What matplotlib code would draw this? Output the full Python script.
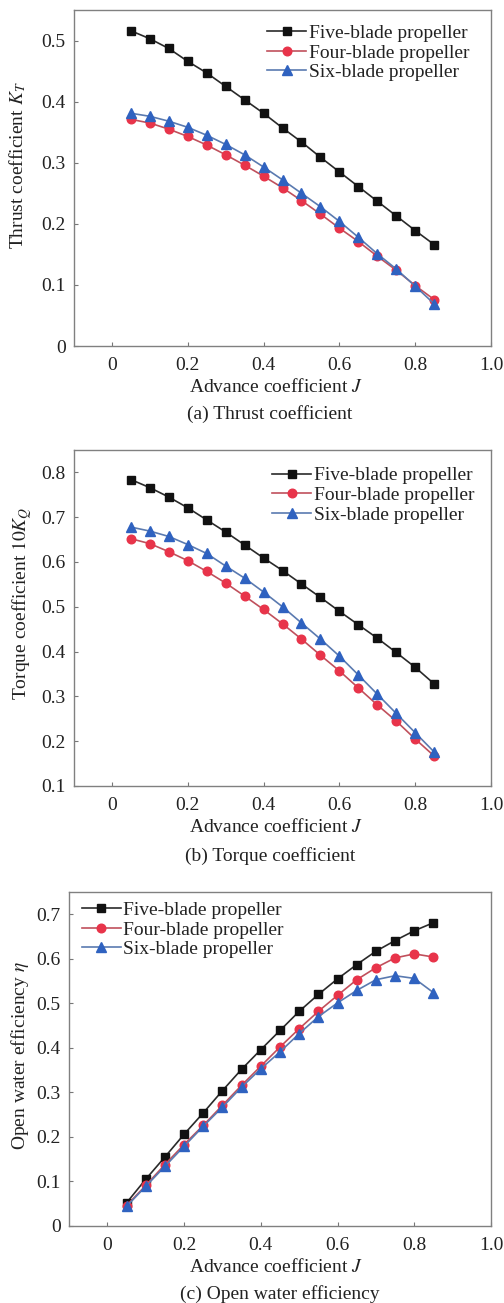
import matplotlib
matplotlib.use("Agg")
import matplotlib.pyplot as plt
from matplotlib.ticker import FuncFormatter

plt.rcParams["font.family"] = ["Liberation Serif", "DejaVu Serif"]
plt.rcParams["mathtext.fontset"] = "stix"

# Advance coefficient J
J = [0.05, 0.10, 0.15, 0.20, 0.25, 0.30, 0.35, 0.40, 0.45,
     0.50, 0.55, 0.60, 0.65, 0.70, 0.75, 0.80, 0.85]

series_labels = ["Five-blade propeller", "Four-blade propeller", "Six-blade propeller"]

# Thrust coefficient K_T
kt_five = [0.516, 0.503, 0.487, 0.466, 0.447, 0.425, 0.403, 0.381, 0.357,
           0.334, 0.309, 0.285, 0.261, 0.237, 0.213, 0.189, 0.166]
kt_four = [0.371, 0.365, 0.355, 0.343, 0.329, 0.313, 0.296, 0.278, 0.259,
           0.238, 0.216, 0.193, 0.171, 0.147, 0.124, 0.099, 0.076]
kt_six = [0.381, 0.376, 0.368, 0.358, 0.345, 0.330, 0.313, 0.293, 0.272,
          0.250, 0.228, 0.204, 0.178, 0.151, 0.126, 0.098, 0.069]

# Torque coefficient 10K_Q
kq_five = [0.784, 0.766, 0.745, 0.721, 0.694, 0.667, 0.638, 0.609, 0.581,
           0.551, 0.521, 0.490, 0.460, 0.430, 0.398, 0.365, 0.328]
kq_four = [0.652, 0.641, 0.623, 0.603, 0.579, 0.553, 0.524, 0.494, 0.462,
           0.428, 0.392, 0.357, 0.319, 0.281, 0.245, 0.205, 0.167]
kq_six = [0.678, 0.669, 0.657, 0.639, 0.619, 0.591, 0.564, 0.533, 0.500,
          0.464, 0.428, 0.390, 0.348, 0.305, 0.262, 0.219, 0.176]

# Open water efficiency eta
eta_five = [0.052, 0.105, 0.155, 0.206, 0.254, 0.304, 0.352, 0.396, 0.439,
            0.482, 0.520, 0.555, 0.587, 0.617, 0.641, 0.663, 0.681]
eta_four = [0.046, 0.091, 0.138, 0.183, 0.226, 0.271, 0.316, 0.359, 0.402,
            0.443, 0.482, 0.518, 0.553, 0.580, 0.602, 0.611, 0.604]
eta_six = [0.044, 0.089, 0.134, 0.179, 0.224, 0.267, 0.312, 0.353, 0.391,
           0.432, 0.470, 0.501, 0.529, 0.553, 0.562, 0.556, 0.524]

styles = [
    dict(color="#2a2a2a", marker="s", markersize=5.3, markerfacecolor="#111111",
         markeredgecolor="#111111"),
    dict(color="#c0505c", marker="o", markersize=6.2, markerfacecolor="#e8344a",
         markeredgecolor="#e8344a"),
    dict(color="#5a7ab0", marker="^", markersize=6.8, markerfacecolor="#2f62c0",
         markeredgecolor="#2f62c0"),
]

W, H = 504, 1303
FS = 14
fig = plt.figure(figsize=(W / 100, H / 100), dpi=100)


def px_axes(left, top, right, bottom):
    return fig.add_axes([left / W, 1 - bottom / H, (right - left) / W, (bottom - top) / H])


def fmt(v, _):
    if abs(v) < 1e-9:
        return "0"
    return f"{v:.1f}"


panels = [
    dict(box=(74, 10, 491, 346), data=(kt_five, kt_four, kt_six), ylim=(0, 0.55),
         yticks=[0, 0.1, 0.2, 0.3, 0.4, 0.5],
         ylabel="Thrust coefficient $K_T$", ylab=(18, 165),
         xlab=(276, 387), cap=(270, 414), caption="(a) Thrust coefficient",
         leg=(0.463, 0.957)),
    dict(box=(74, 450, 491, 786), data=(kq_five, kq_four, kq_six), ylim=(0.1, 0.85),
         yticks=[0.1, 0.2, 0.3, 0.4, 0.5, 0.6, 0.7, 0.8],
         ylabel="Torque coefficient $10K_Q$", ylab=(22, 603),
         xlab=(276, 827), cap=(270, 856), caption="(b) Torque coefficient",
         leg=(0.475, 0.950)),
    dict(box=(69, 892, 491, 1226), data=(eta_five, eta_four, eta_six), ylim=(0, 0.75),
         yticks=[0, 0.1, 0.2, 0.3, 0.4, 0.5, 0.6, 0.7],
         ylabel="Open water efficiency $\\eta$", ylab=(20, 1056),
         xlab=(276, 1267), cap=(280, 1294), caption="(c) Open water efficiency",
         leg=(0.03, 0.972)),
]

for p in panels:
    l, t, r, b = p["box"]
    ax = px_axes(l, t, r, b)
    for ys, lab, st in zip(p["data"], series_labels, styles):
        ax.plot(J, ys, label=lab, linewidth=1.2, **st)
    ax.set_xlim(-0.1, 1.0)
    ax.set_ylim(*p["ylim"])
    ax.set_xticks([0, 0.2, 0.4, 0.6, 0.8, 1.0])
    ax.set_yticks(p["yticks"])
    ax.xaxis.set_major_formatter(FuncFormatter(fmt))
    ax.yaxis.set_major_formatter(FuncFormatter(fmt))
    ax.tick_params(direction="in", length=3, width=0.8, color="#777777",
                   labelsize=FS, labelcolor="#222222", pad=6)
    ax.tick_params(axis="x", pad=8)
    for sp in ax.spines.values():
        sp.set_color("#808080")
        sp.set_linewidth(1.0)
    leg = ax.legend(loc="upper left", bbox_to_anchor=p["leg"], frameon=False,
                    fontsize=FS, handlelength=2.0, handletextpad=0.15,
                    labelspacing=0.1, borderaxespad=0, borderpad=0)
    for txt in leg.get_texts():
        txt.set_color("#222222")
    fig.text(p["xlab"][0] / W, 1 - p["xlab"][1] / H, "Advance coefficient $J$",
             ha="center", va="center", fontsize=FS, color="#222222")
    fig.text(p["cap"][0] / W, 1 - p["cap"][1] / H, p["caption"], ha="center",
             va="center", fontsize=FS, color="#222222")
    fig.text(p["ylab"][0] / W, 1 - p["ylab"][1] / H, p["ylabel"], ha="center",
             va="center", rotation=90, fontsize=FS, color="#222222")

fig.savefig("out.png", dpi=100)
